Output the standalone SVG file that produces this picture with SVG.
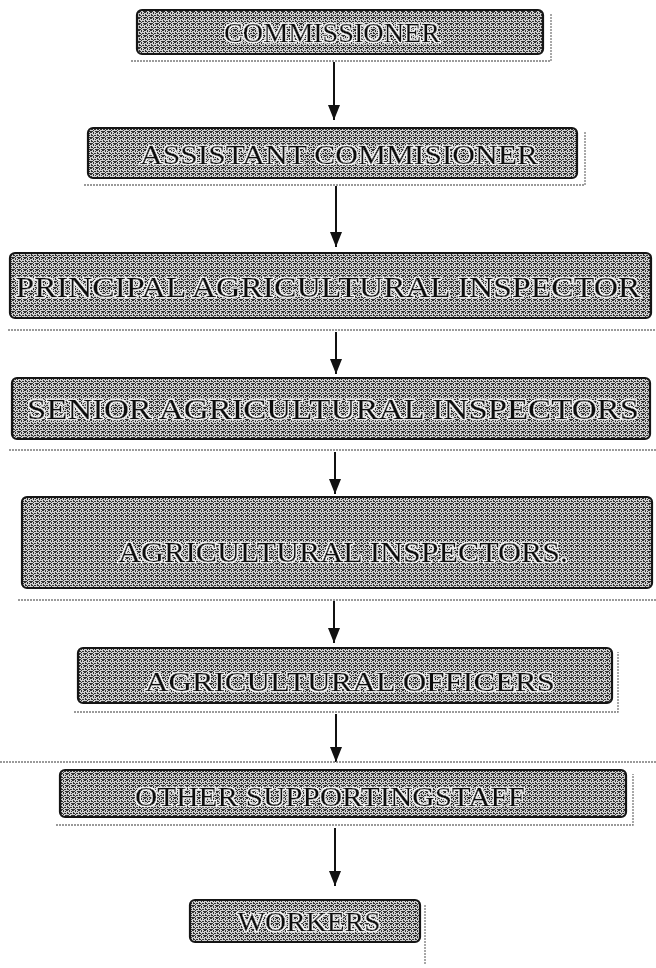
<svg xmlns="http://www.w3.org/2000/svg" width="656" height="968" viewBox="0 0 656 968">
  <defs>
    <!-- grainy halftone fill used inside every box -->
    <pattern id="grain" width="6" height="6" patternUnits="userSpaceOnUse">
      <rect width="6" height="6" fill="#d0d0d0"/>
      <path d="M0 0h2v1H0z M3 0h1v2H3z M5 1h1v1H5z M1 2h1v2H1z M4 3h2v1H4z M0 5h3v1H0z M3 4h1v1H3z M5 5h1v1H5z M2 3h1v1H2z" fill="#303030"/>
    </pattern>
    <!-- white outline behind the lettering -->
    <filter id="halo" x="-5%" y="-30%" width="110%" height="160%">
      <feMorphology in="SourceAlpha" operator="dilate" radius="1.3" result="grow"/>
      <feFlood flood-color="#ffffff"/>
      <feComposite in2="grow" operator="in" result="ring"/>
      <feMerge>
        <feMergeNode in="ring"/>
        <feMergeNode in="SourceGraphic"/>
      </feMerge>
    </filter>
    <marker id="arrow" viewBox="0 0 15 12" refX="15" refY="6" markerWidth="15" markerHeight="12" markerUnits="userSpaceOnUse" orient="auto">
      <path d="M0 0 L15 6 L0 12 Z" fill="#111"/>
    </marker>
  </defs>
  <style>
    .box { fill: url(#grain); stroke: #151515; stroke-width: 2.2; }
    .shadow { fill: none; stroke: #7a7a7a; stroke-width: 1.3; stroke-dasharray: 2 1; }
    .label { font-family: "Liberation Serif", "Times New Roman", serif; fill: #0c0c0c; text-anchor: middle;
             stroke: #0c0c0c; stroke-width: 0.45; filter: url(#halo); }
    .link { stroke: #111; stroke-width: 2; fill: none; }
  </style>

  <rect width="656" height="968" fill="#ffffff"/>

  <!-- connectors -->
  <g id="connectors">
    <line class="link" x1="334" y1="62" x2="334" y2="120" marker-end="url(#arrow)"/>
    <line class="link" x1="336" y1="186" x2="336" y2="247" marker-end="url(#arrow)"/>
    <line class="link" x1="336" y1="332" x2="336" y2="374" marker-end="url(#arrow)"/>
    <line class="link" x1="335" y1="452" x2="335" y2="494" marker-end="url(#arrow)"/>
    <line class="link" x1="334" y1="601" x2="334" y2="643" marker-end="url(#arrow)"/>
    <line class="link" x1="336" y1="714" x2="336" y2="762" marker-end="url(#arrow)"/>
    <line class="link" x1="335" y1="828" x2="335" y2="886" marker-end="url(#arrow)"/>
  </g>

  <g id="commissioner">
    <path class="shadow" d="M131 61 H551 V14"/>
    <rect class="box" x="137" y="10" width="406" height="44" rx="5"/>
    <text class="label" x="332" y="42" font-size="28" textLength="216" lengthAdjust="spacingAndGlyphs">COMMISSIONER</text>
  </g>

  <g id="assistant-commissioner">
    <path class="shadow" d="M84 185 H585 V132"/>
    <rect class="box" x="88" y="128" width="489" height="50" rx="5"/>
    <text class="label" x="339" y="164" font-size="28" textLength="398" lengthAdjust="spacingAndGlyphs">ASSISTANT COMMISIONER</text>
  </g>

  <g id="principal-inspector">
    <path class="shadow" d="M8 330 H656"/>
    <rect class="box" x="10" y="253" width="641" height="65" rx="5"/>
    <text class="label" x="328" y="297" font-size="30" textLength="625" lengthAdjust="spacingAndGlyphs">PRINCIPAL AGRICULTURAL INSPECTOR</text>
  </g>

  <g id="senior-inspectors">
    <path class="shadow" d="M9 450 H656"/>
    <rect class="box" x="12" y="378" width="638" height="61" rx="5"/>
    <text class="label" x="333" y="419" font-size="29" textLength="612" lengthAdjust="spacingAndGlyphs">SENIOR AGRICULTURAL INSPECTORS</text>
  </g>

  <g id="inspectors">
    <path class="shadow" d="M18 600 H656"/>
    <rect class="box" x="22" y="497" width="630" height="91" rx="5"/>
    <text class="label" x="343" y="562" font-size="29" textLength="450" lengthAdjust="spacingAndGlyphs">AGRICULTURAL INSPECTORS.</text>
  </g>

  <g id="officers">
    <path class="shadow" d="M74 712 H618 V652"/>
    <rect class="box" x="78" y="648" width="534" height="55" rx="5"/>
    <text class="label" x="350" y="691" font-size="28" textLength="410" lengthAdjust="spacingAndGlyphs">AGRICULTURAL OFFICERS</text>
  </g>

  <g id="supporting-staff">
    <path class="shadow" d="M0 762 H656"/>
    <path class="shadow" d="M56 825 H633 V774"/>
    <rect class="box" x="60" y="770" width="566" height="47" rx="5"/>
    <text class="label" x="330" y="806" font-size="28" textLength="390" lengthAdjust="spacingAndGlyphs">OTHER SUPPORTINGSTAFF</text>
  </g>

  <g id="workers">
    <path class="shadow" d="M425 905 V965"/>
    <rect class="box" x="190" y="900" width="230" height="42" rx="5"/>
    <text class="label" x="309" y="931" font-size="27" textLength="143" lengthAdjust="spacingAndGlyphs">WORKERS</text>
  </g>
</svg>
